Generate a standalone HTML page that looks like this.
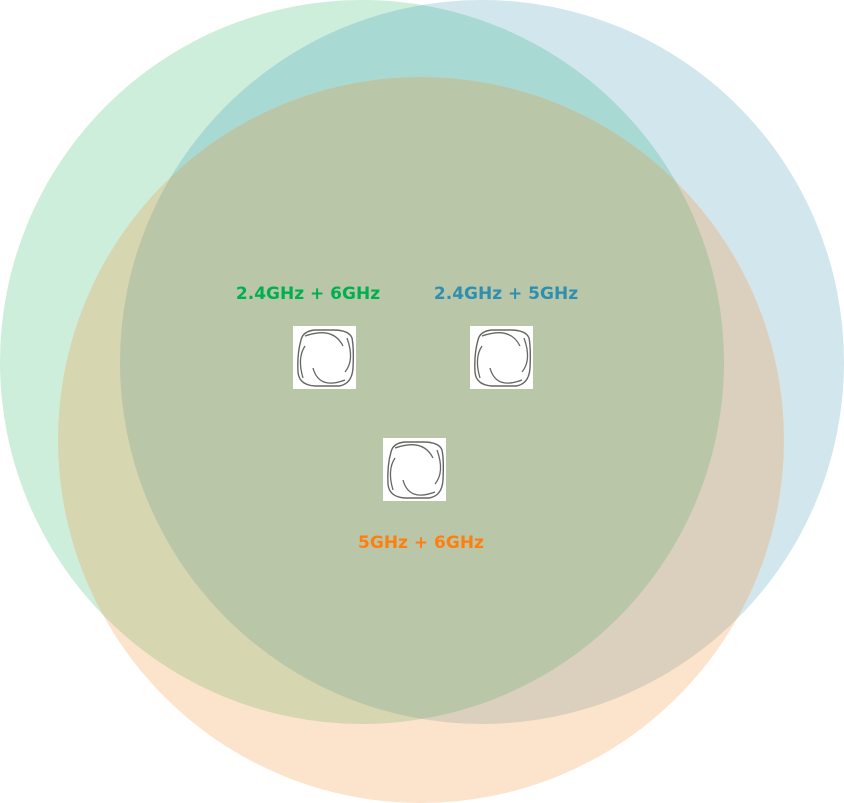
<!DOCTYPE html>
<html><head><meta charset="utf-8"><style>
html,body{margin:0;padding:0;background:#fff;width:844px;height:803px;overflow:hidden}
text{font-family:"DejaVu Sans","Liberation Sans",sans-serif;font-weight:bold;font-size:17px}
</style></head><body>
<svg width="844" height="803" viewBox="0 0 844 803">
<defs>
<clipPath id="cg"><circle cx="362" cy="362" r="362"/></clipPath>
<clipPath id="cb"><circle cx="482" cy="362" r="362"/></clipPath>
<g id="ic">
<rect x="0" y="0" width="63" height="63" fill="#fff"/>
<path d="M8 14 Q10 5 22 4 L40 4 Q56 4 59 12 Q61 22 60 42 Q59 58 46 60 L22 60 Q6 59 5 46 Q4 28 8 14 Z" fill="none" stroke="#666" stroke-width="1.4"/>
<path d="M12 10 Q40 0 50 20" fill="none" stroke="#666" stroke-width="1.3"/>
<path d="M54 12 Q62 34 52 46" fill="none" stroke="#666" stroke-width="1.3"/>
<path d="M52 54 Q26 64 20 42" fill="none" stroke="#666" stroke-width="1.3"/>
<path d="M10 52 Q4 32 12 20" fill="none" stroke="#666" stroke-width="1.3"/>
</g>
</defs>
<circle cx="362" cy="362" r="362" fill="#cceedb"/>
<circle cx="482" cy="362" r="362" fill="#d2e6ed"/>
<circle cx="421" cy="440" r="363" fill="#fce3cb"/>
<circle cx="482" cy="362" r="362" fill="#a8d9d2" clip-path="url(#cg)"/>
<circle cx="421" cy="440" r="363" fill="#d6d6b0" clip-path="url(#cg)"/>
<circle cx="421" cy="440" r="363" fill="#dbd0bd" clip-path="url(#cb)"/>
<g clip-path="url(#cg)"><circle cx="421" cy="440" r="363" fill="#bac6a8" clip-path="url(#cb)"/></g>
<text x="308" y="299" text-anchor="middle" fill="#00b050">2.4GHz + 6GHz</text>
<text x="506" y="299" text-anchor="middle" fill="#2e8fb0">2.4GHz + 5GHz</text>
<text x="421" y="548" text-anchor="middle" fill="#ff7f0e">5GHz + 6GHz</text>
<use href="#ic" x="293" y="326"/>
<use href="#ic" x="470" y="326"/>
<use href="#ic" x="383" y="438"/>
</svg>
</body></html>
